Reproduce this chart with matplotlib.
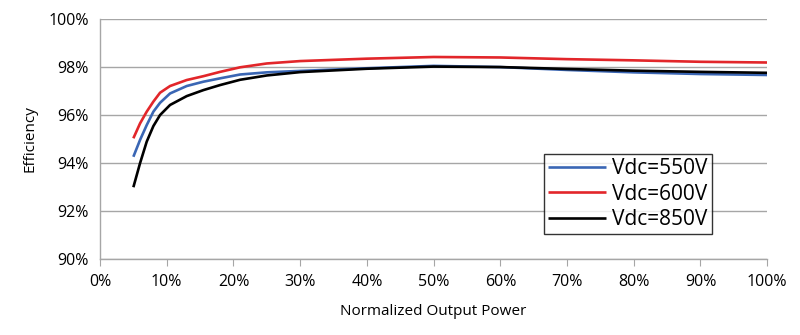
import numpy as np
from matplotlib import pyplot as plt
from matplotlib.ticker import FuncFormatter

# normalized output power (%)
power = [5, 6, 7, 8, 9, 10.5, 13, 15.5, 18, 21, 25, 30, 40, 50, 60, 70, 80, 90, 100]

eff_550 = [94.26, 94.96, 95.58, 96.14, 96.51, 96.9, 97.21, 97.39, 97.53, 97.69, 97.78,
           97.84, 97.95, 98.05, 98.0, 97.88, 97.78, 97.71, 97.67]
eff_600 = [95.03, 95.65, 96.14, 96.56, 96.93, 97.21, 97.46, 97.62, 97.8, 97.99, 98.15,
           98.25, 98.35, 98.42, 98.4, 98.33, 98.28, 98.22, 98.19]
eff_850 = [92.99, 93.99, 94.89, 95.54, 96.0, 96.42, 96.79, 97.04, 97.25, 97.47, 97.65,
           97.79, 97.93, 98.02, 98.0, 97.92, 97.85, 97.8, 97.76]

labels = ['Vdc=550V', 'Vdc=600V', 'Vdc=850V']
colors = ['#3a66b4', '#e2262a', '#000000']

plt.rcParams['font.family'] = ['Open Sans', 'DejaVu Sans']

fig = plt.figure(figsize=(8, 3.35), dpi=100)
ax = fig.add_axes([0.125, 0.227, 0.834, 0.716])

for y, lab, c in zip([eff_550, eff_600, eff_850], labels, colors):
    ax.plot(power, y, color=c, lw=1.9, label=lab, solid_capstyle='butt')

ax.set_xlim(0, 100)
ax.set_ylim(90, 100)
ax.set_xticks(np.arange(0, 101, 10))
ax.set_yticks(np.arange(90, 101, 2))
ax.xaxis.set_major_formatter(FuncFormatter(lambda v, p: '%d%%' % v))
ax.yaxis.set_major_formatter(FuncFormatter(lambda v, p: '%d%%' % v))
ax.grid(axis='y', color='#a6a6a6', lw=1.0)
ax.set_axisbelow(True)
for s in ['top', 'right']:
    ax.spines[s].set_visible(False)
for s in ['left', 'bottom']:
    ax.spines[s].set_color('#a6a6a6')
    ax.spines[s].set_linewidth(1.0)
ax.tick_params(axis='x', length=5, color='#a6a6a6', labelsize=11.5, pad=6)
ax.tick_params(axis='y', length=0, labelsize=11.5, pad=8)

ax.set_xlabel('Normalized Output Power', fontsize=11, labelpad=10)
ax.set_ylabel('Efficiency', fontsize=11, labelpad=8)

leg = ax.legend(loc='upper left', bbox_to_anchor=(0.665, 0.438), fontsize=15,
                frameon=True, fancybox=False, borderpad=0.2, labelspacing=0.22,
                handlelength=2.8, handletextpad=0.3, borderaxespad=0)
leg.get_frame().set_edgecolor('#000000')
leg.get_frame().set_linewidth(1.0)

fig.savefig('out.png', dpi=100)
